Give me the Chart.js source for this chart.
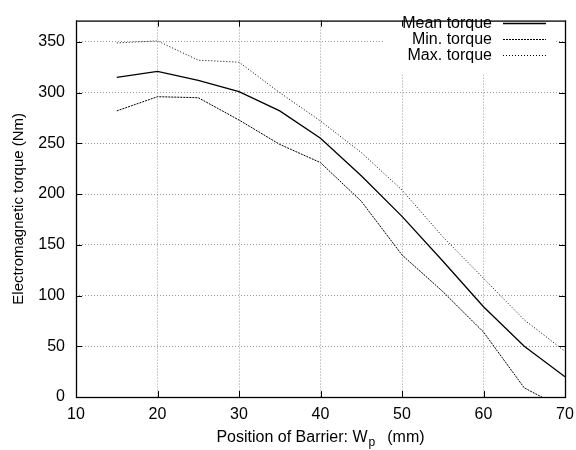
<!DOCTYPE html>
<html>
<head>
<meta charset="utf-8">
<script src="https://cdn.jsdelivr.net/npm/chart.js@4.4.0/dist/chart.umd.min.js"></script>
<style>
  html, body { margin: 0; padding: 0; background: #fff; }
  #torque-chart { display: block; }
</style>
</head>
<body>
<canvas id="torque-chart" width="576" height="450"></canvas>
<script>
// Barrier position (mm)
let positions = [15, 20, 25, 30, 35, 40, 45, 50, 55, 60, 65, 70];

// Torque curves (Nm)
let meanTorque = [315, 321, 312, 301, 282, 255, 218, 178, 134, 89, 50, 20];
let minTorque = [282, 296, 295, 273, 249, 231, 193, 140, 104, 64, 9, -12];
let maxTorque = [349, 351, 332, 330, 300, 272, 241, 204, 158, 117, 76, 45];

let seriesNames = ['Mean torque', 'Min. torque', 'Max. torque'];
let seriesDash = [[], [2, 1], [1, 2]];
let seriesWidth = [1.3, 1, 1];

let xTicks = [10, 20, 30, 40, 50, 60, 70];
let yTicks = [0, 50, 100, 150, 200, 250, 300, 350];

let fontFamily = '"Liberation Sans", Arial, Helvetica, sans-serif';

function toPoints(values) {
    return positions.map((p, i) => ({ x: p, y: values[i] }));
}

// gnuplot-ish frame: inward ticks on all four sides, legend box, subscript x label
let framePlugin = {
    id: 'frame',
    beforeDatasetsDraw(chart) {
        let c = chart.ctx;
        c.save();
        c.fillStyle = '#fff';
        c.fillRect(383, chart.chartArea.top + 1, 172, 53);
        c.restore();
    },
    afterDraw(chart) {
        let c = chart.ctx;
        let a = chart.chartArea;
        let xs = chart.scales.x;
        let ys = chart.scales.y;
        c.save();
        c.strokeStyle = '#000';
        c.lineWidth = 1;
        c.setLineDash([]);
        c.beginPath();
        xTicks.forEach(v => {
            let px = Math.round(xs.getPixelForValue(v)) + 0.5;
            c.moveTo(px, a.bottom); c.lineTo(px, a.bottom - 6);
            c.moveTo(px, a.top); c.lineTo(px, a.top + 6);
        });
        yTicks.forEach(v => {
            let py = Math.round(ys.getPixelForValue(v)) + 0.5;
            c.moveTo(a.left, py); c.lineTo(a.left + 6, py);
            c.moveTo(a.right, py); c.lineTo(a.right - 6, py);
        });
        c.stroke();

        c.lineWidth = 1.3;
        c.strokeRect(a.left + 0.5, a.top + 0.5, a.right - a.left, a.bottom - a.top);

        // legend
        c.font = '16px ' + fontFamily;
        c.fillStyle = '#000';
        c.textAlign = 'right';
        c.textBaseline = 'alphabetic';
        seriesNames.forEach((name, i) => {
            let y = 22.5 + i * 16.3;
            c.fillText(name, 492, y + 5);
            c.setLineDash(seriesDash[i]);
            c.lineWidth = seriesWidth[i];
            c.beginPath();
            c.moveTo(503, Math.round(y) + 0.5);
            c.lineTo(546, Math.round(y) + 0.5);
            c.stroke();
        });
        c.setLineDash([]);

        // x axis title with subscript, centred under the plot
        let t1 = 'Position of Barrier: W', t2 = '(mm)';
        let gap = 12;
        c.font = '16px ' + fontFamily;
        let w1 = c.measureText(t1).width, w3 = c.measureText(t2).width;
        c.font = '12px ' + fontFamily;
        let w2 = c.measureText('p').width + 1;
        let x0 = (a.left + a.right) / 2 - (w1 + w2 + gap + w3) / 2;
        let base = 442;
        c.textAlign = 'left';
        c.font = '16px ' + fontFamily;
        c.fillText(t1, x0, base);
        c.font = '12px ' + fontFamily;
        c.fillText('p', x0 + w1 + 1, base + 4);
        c.font = '16px ' + fontFamily;
        c.fillText(t2, x0 + w1 + w2 + gap, base);
        c.restore();
    }
};

let lineDatasets = [meanTorque, minTorque, maxTorque].map((values, i) => ({
    label: seriesNames[i],
    data: toPoints(values),
    borderColor: '#000',
    borderWidth: seriesWidth[i],
    borderDash: seriesDash[i],
    pointRadius: 0,
    tension: 0,
    fill: false
}));

let chartOptions = {
    responsive: false,
    animation: false,
    devicePixelRatio: 1,
    layout: {
        padding: { top: 10, right: 11, left: 0, bottom: 0 }
    },
    scales: {
        x: {
            type: 'linear',
            min: 10,
            max: 70,
            afterBuildTicks: scale => { scale.ticks = xTicks.map(v => ({ value: v })); },
            afterFit: scale => {
                scale.height = 53;
                scale.paddingLeft = 0;
                scale.paddingRight = 0;
            },
            ticks: {
                padding: 8,
                color: '#000',
                font: { family: fontFamily, size: 16 }
            },
            grid: {
                color: '#999',
                lineWidth: 1,
                drawTicks: false
            },
            border: { display: false, dash: [1, 2] }
        },
        y: {
            type: 'linear',
            min: 0,
            max: 371,
            afterBuildTicks: scale => { scale.ticks = yTicks.map(v => ({ value: v })); },
            afterFit: scale => { scale.width = 76; },
            ticks: {
                padding: 11,
                color: '#000',
                font: { family: fontFamily, size: 16 }
            },
            title: {
                display: true,
                text: 'Electromagnetic torque (Nm)',
                color: '#000',
                font: { family: fontFamily, size: 15 },
                padding: { top: 10, bottom: 0 }
            },
            grid: {
                color: '#999',
                lineWidth: 1,
                drawTicks: false
            },
            border: { display: false, dash: [1, 2] }
        }
    },
    plugins: {
        legend: { display: false },
        tooltip: { enabled: false }
    }
};

let ctx = document.getElementById('torque-chart').getContext('2d');
let torqueChart = new Chart(ctx, {
    type: 'line',
    data: { datasets: lineDatasets },
    options: chartOptions,
    plugins: [framePlugin]
});
</script>
</body>
</html>
